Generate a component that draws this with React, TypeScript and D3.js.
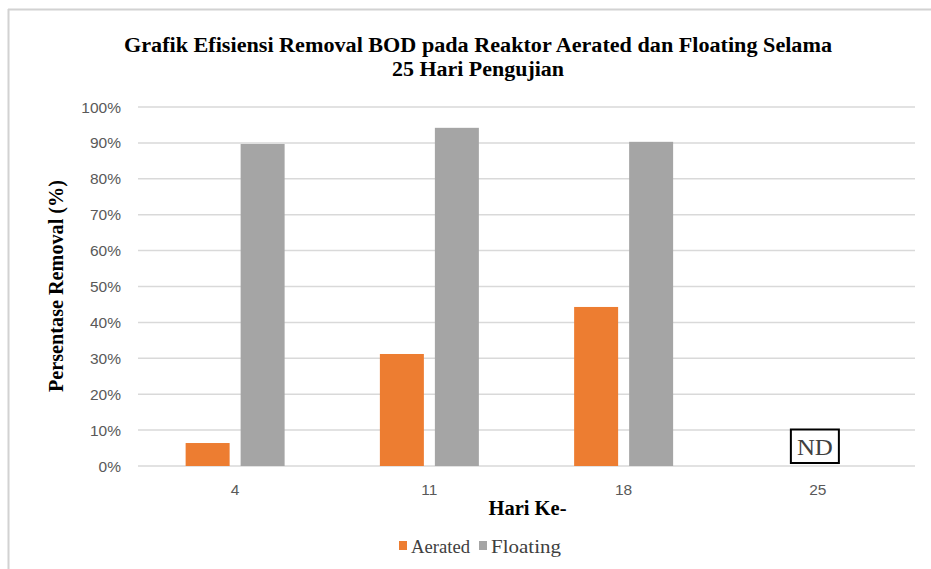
import React from "react";
import * as d3 from "d3";

const categories = ["4", "11", "18", "25"];
const aerated: (number | null)[] = [0.064, 0.312, 0.443, null];
const floating: (number | null)[] = [0.897, 0.942, 0.903, null];
const yTicks = [0, 0.1, 0.2, 0.3, 0.4, 0.5, 0.6, 0.7, 0.8, 0.9, 1.0];
const seriesNames = ["Aerated", "Floating"];
const seriesColors = ["#ED7D31", "#A5A5A5"];
const titleLines = [
  "Grafik Efisiensi  Removal BOD pada Reaktor Aerated dan Floating Selama",
  "25 Hari Pengujian",
];
const ndLabel = "ND";

export default function App() {
  const W = 931, H = 569;
  const left = 138, right = 915, top = 107, bottom = 466;
  const x = d3.scaleBand<string>().domain(categories).range([left, right]).paddingInner(0).paddingOuter(0);
  const x1 = d3.scaleBand<string>().domain(seriesNames).range([0, x.bandwidth()]).paddingInner(0.2).paddingOuter(0.866);
  const y = d3.scaleLinear().domain([0, 1]).range([bottom, top]);
  const pct = d3.format(".0%");
  const serif = "'Liberation Serif', 'Times New Roman', serif";
  const sans = "'Liberation Sans', Arial, sans-serif";
  const series = [aerated, floating];

  return (
    <svg width={W} height={H} style={{ position: "absolute", left: 0, top: 0, background: "#fff" }}>
      <rect x={0} y={0} width={W} height={H} fill="#fff" />
      <line x1={8} y1={9.5} x2={W} y2={9.5} stroke="#d2d2d2" strokeWidth={2} />
      <line x1={8.5} y1={9} x2={8.5} y2={H} stroke="#d2d2d2" strokeWidth={2} />

      {titleLines.map((t, i) => (
        <text key={i} x={478} y={52 + i * 24} textAnchor="middle" fontFamily={serif} fontWeight="bold"
          fontSize={20} fill="#000"
          {...(i === 0 ? { textLength: 708, lengthAdjust: "spacingAndGlyphs" } : { textLength: 172, lengthAdjust: "spacingAndGlyphs" })}>
          {t}
        </text>
      ))}

      {yTicks.map((t) => (
        <g key={t}>
          <line x1={left} x2={right} y1={y(t)} y2={y(t)} stroke="#D9D9D9" strokeWidth={1.5} />
          <text x={121} y={y(t) + 5.5} textAnchor="end" fontFamily={sans} fontSize={15.5} fill="#595959">
            {pct(t)}
          </text>
        </g>
      ))}

      {categories.map((c, ci) => (
        <g key={c}>
          {series.map((s, si) => {
            const v = s[ci];
            if (v == null) return null;
            const bx = (x(c) as number) + (x1(seriesNames[si]) as number);
            return (
              <rect key={si} x={bx} y={y(v)} width={x1.bandwidth()} height={y(0) - y(v)} fill={seriesColors[si]} />
            );
          })}
          <text x={(x(c) as number) + x.bandwidth() / 2} y={495} textAnchor="middle" fontFamily={sans}
            fontSize={15.5} fill="#595959">
            {c}
          </text>
        </g>
      ))}

      {(() => {
        const cx = (x("25") as number) + x.bandwidth() / 2 - 3;
        return (
          <g>
            <rect x={cx - 24} y={429.5} width={48} height={33.5} fill="#fff" stroke="#000" strokeWidth={2} />
            <text x={cx} y={455} textAnchor="middle" fontFamily={serif} fontSize={23} fill="#404040"
              textLength={36} lengthAdjust="spacingAndGlyphs">
              {ndLabel}
            </text>
          </g>
        );
      })()}

      <text x={(left + right) / 2 + 1} y={515} textAnchor="middle" fontFamily={serif} fontWeight="bold" fontSize={20}
        fill="#000" textLength={78} lengthAdjust="spacingAndGlyphs">
        Hari Ke-
      </text>
      <text transform={`translate(63, 286) rotate(-90)`} textAnchor="middle" fontFamily={serif}
        fontWeight="bold" fontSize={20} fill="#000" textLength={212} lengthAdjust="spacingAndGlyphs">
        Persentase Removal (%)
      </text>

      {seriesNames.map((n, i) => {
        const lx = [399, 479][i];
        return (
          <g key={n}>
            <rect x={lx} y={541} width={8} height={9} fill={seriesColors[i]} />
            <text x={lx + 12} y={553} fontFamily={serif} fontSize={18} fill="#404040"
              textLength={[59, 70][i]} lengthAdjust="spacingAndGlyphs">
              {n}
            </text>
          </g>
        );
      })}
    </svg>
  );
}
